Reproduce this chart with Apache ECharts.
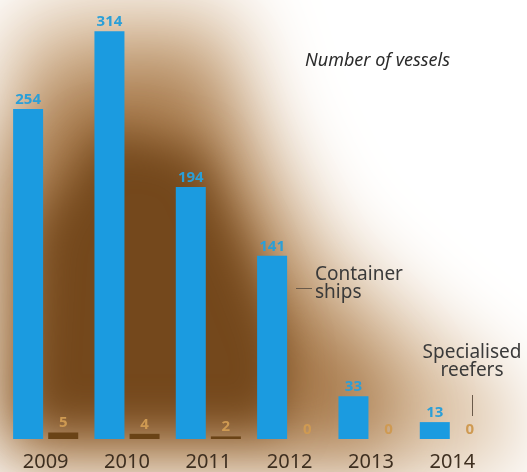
<!DOCTYPE html>
<html>
<head>
<meta charset="utf-8">
<script src="https://cdn.jsdelivr.net/npm/echarts@6/dist/echarts.min.js"></script>
<style>
  html, body { margin: 0; padding: 0; background: #fff; }
  #chart { width: 527px; height: 472px; }
</style>
</head>
<body>
<div id="chart"></div>
<script>
// data
const years = ['2009', '2010', '2011', '2012', '2013', '2014'];
const containerShips = [254, 314, 194, 141, 33, 13];
const specialisedReefers = [5, 4, 2, 0, 0, 0];

const chart = echarts.init(document.getElementById('chart'));

const FONT = 'Noto Sans';
const SHIFT = 2000;

// blurred brown backdrop: shapes drawn off-canvas, only their shadow shows
function blob(points, color, blur, z) {
  return {
    type: 'polygon',
    silent: true,
    z: z,
    shape: { points: points.map(p => [p[0] - SHIFT, p[1]]) },
    style: {
      fill: color,
      shadowColor: color,
      shadowBlur: blur,
      shadowOffsetX: SHIFT
    }
  };
}

const option = {
  backgroundColor: '#ffffff',
  animation: false,
  grid: { left: 5, top: 0, width: 488, height: 440, containLabel: false },
  xAxis: {
    type: 'category',
    data: years,
    axisLine: { show: false },
    axisTick: { show: false },
    axisLabel: {
      margin: 13,
      fontFamily: FONT,
      fontSize: 20,
      color: '#3e2f20'
    }
  },
  yAxis: {
    type: 'value',
    min: 0,
    max: 338,
    show: false,
    splitLine: { show: false }
  },
  graphic: {
    elements: [
      blob([[0, 40], [50, 0], [230, 0], [260, 110], [320, 230], [430, 330], [510, 390], [510, 472], [0, 472]], '#dcc2a4', 80, -30),
      blob([[0, 170], [60, 70], [200, 60], [245, 180], [300, 290], [390, 380], [400, 450], [0, 450]], '#a97c4e', 70, -20),
      blob([[35, 230], [100, 130], [200, 150], [250, 260], [285, 350], [280, 428], [25, 428]], '#74481c', 45, -10),
      {
        type: 'text',
        left: 305,
        top: 52,
        silent: true,
        style: {
          text: 'Number of vessels',
          fontFamily: FONT,
          fontStyle: 'italic',
          fontSize: 18,
          fill: '#2b2b2b'
        }
      },
      {
        type: 'text',
        left: 315,
        top: 265,
        silent: true,
        style: {
          text: 'Container\nships',
          fontFamily: FONT,
          fontSize: 19,
          lineHeight: 18,
          fill: '#3a3a3a'
        }
      },
      {
        type: 'line',
        silent: true,
        shape: { x1: 296, y1: 288.5, x2: 312, y2: 288.5 },
        style: { stroke: '#6a5a4a', lineWidth: 1 }
      },
      {
        type: 'text',
        x: 472,
        y: 344,
        silent: true,
        style: {
          text: 'Specialised\nreefers',
          align: 'center',
          fontFamily: FONT,
          fontSize: 19,
          lineHeight: 18,
          fill: '#3a3a3a'
        }
      },
      {
        type: 'line',
        silent: true,
        shape: { x1: 472.5, y1: 395, x2: 472.5, y2: 416 },
        style: { stroke: '#6a5a4a', lineWidth: 1 }
      }
    ]
  },
  series: [
    {
      name: 'Container ships',
      type: 'bar',
      data: containerShips,
      barWidth: 30,
      barGap: '17%',
      itemStyle: { color: '#1b9be0' },
      label: {
        show: true,
        position: 'top',
        distance: 2,
        fontFamily: FONT,
        fontWeight: 'bold',
        fontSize: 15,
        color: '#2a9fd8'
      }
    },
    {
      name: 'Specialised reefers',
      type: 'bar',
      data: specialisedReefers,
      barWidth: 30,
      itemStyle: { color: '#6a4316' },
      label: {
        show: true,
        position: 'top',
        distance: 2,
        fontFamily: FONT,
        fontWeight: 'bold',
        fontSize: 15,
        color: '#cf9a52'
      }
    }
  ]
};

chart.setOption(option);
</script>
</body>
</html>
